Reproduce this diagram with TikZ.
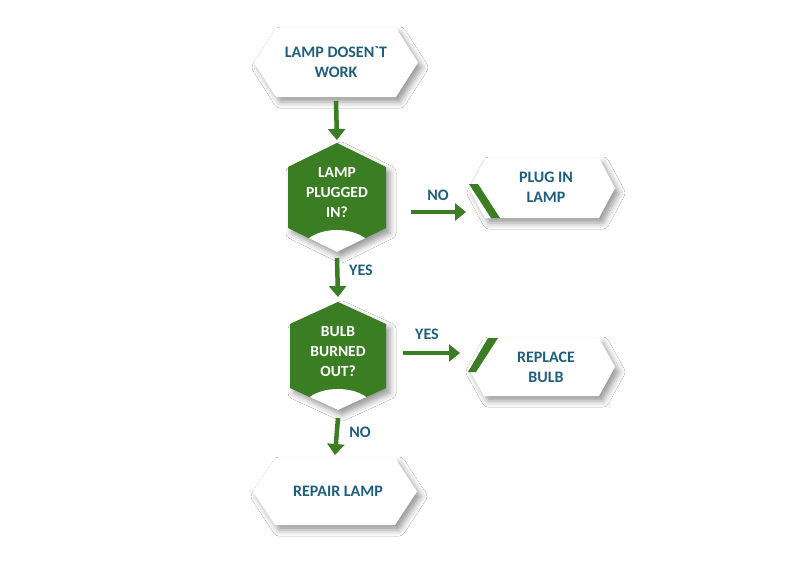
\documentclass[tikz,border=0pt]{standalone}
\usepackage{fontspec}
\setmainfont{Carlito}[Ligatures=TeXOff]
\usetikzlibrary{arrows.meta,shadows.blur}
\definecolor{lgreen}{HTML}{3A7D22}
\definecolor{ltext}{HTML}{1F5F7E}
\begin{document}
\begin{tikzpicture}[x=1pt,y=-1pt,
  holder/.style={inner sep=0pt, outer sep=0pt},
  btxt/.style={text=ltext, font=\fontsize{16}{20}\selectfont\bfseries, align=center, inner sep=0pt},
  wtxt/.style={text=white, font=\fontsize{15.5}{20}\selectfont\bfseries, align=center, inner sep=0pt},
  lbl/.style={text=ltext, font=\fontsize{16}{18}\selectfont\bfseries, inner sep=0pt},
  shd/.style={blur shadow={shadow xshift=4pt, shadow yshift=-5pt, shadow blur radius=6pt, shadow opacity=40}},
  arr/.style={draw=lgreen, line width=4.5pt, -{Triangle[width=17pt,length=11pt]}}
]
\useasboundingbox[fill=white] (0,0) rectangle (800,565);

% placeholders
\node[holder, minimum width=164pt, minimum height=69pt] (n1) at (336,62.5) {};
\node[holder, minimum width=98pt, minimum height=109pt] (d1) at (337,197.5) {};
\node[holder, minimum width=146pt, minimum height=60pt] (p1) at (542,188) {};
\node[holder, minimum width=96pt, minimum height=108pt] (d2) at (338,356) {};
\node[holder, minimum width=147pt, minimum height=58pt] (r1) at (541.5,367) {};
\node[holder, minimum width=164pt, minimum height=67pt] (rp) at (335,491.5) {};

% white hexagons
\fill[white, shd] (n1.west) -- ([xshift=22pt]n1.north west) -- ([xshift=-22pt]n1.north east) -- (n1.east) -- ([xshift=-22pt]n1.south east) -- ([xshift=22pt]n1.south west) -- cycle;
\fill[white, shd] (p1.west) -- ([xshift=16pt]p1.north west) -- ([xshift=-16pt]p1.north east) -- (p1.east) -- ([xshift=-16pt]p1.south east) -- ([xshift=16pt]p1.south west) -- cycle;
\fill[white, shd] (r1.west) -- ([xshift=16pt]r1.north west) -- ([xshift=-16pt]r1.north east) -- (r1.east) -- ([xshift=-16pt]r1.south east) -- ([xshift=16pt]r1.south west) -- cycle;
\fill[white, shd] (rp.west) -- ([xshift=22pt]rp.north west) -- ([xshift=-22pt]rp.north east) -- (rp.east) -- ([xshift=-22pt]rp.south east) -- ([xshift=22pt]rp.south west) -- cycle;

% green bands
\fill[lgreen] (469,184) -- (478,184) -- (500,218) -- (491,218) -- cycle;
\fill[lgreen] (468,372) -- (476,372) -- (498,338) -- (488,338) -- cycle;

% decisions
\fill[lgreen, shd] (d1.north) -- ([yshift=-24pt]d1.north east) -- ([yshift=24pt]d1.south east) -- (d1.south) -- ([yshift=24pt]d1.south west) -- ([yshift=-24pt]d1.north west) -- cycle;
\begin{scope}
\clip (d1.north) -- ([yshift=-24pt]d1.north east) -- ([yshift=24pt]d1.south east) -- (d1.south) -- ([yshift=24pt]d1.south west) -- ([yshift=-24pt]d1.north west) -- cycle;
\fill[white] (d1.south) ellipse [x radius=36, y radius=22];
\end{scope}
\fill[lgreen, shd] (d2.north) -- ([yshift=-22pt]d2.north east) -- ([yshift=22pt]d2.south east) -- (d2.south) -- ([yshift=22pt]d2.south west) -- ([yshift=-22pt]d2.north west) -- cycle;
\begin{scope}
\clip (d2.north) -- ([yshift=-22pt]d2.north east) -- ([yshift=22pt]d2.south east) -- (d2.south) -- ([yshift=22pt]d2.south west) -- ([yshift=-22pt]d2.north west) -- cycle;
\fill[white] (d2.south) ellipse [x radius=36, y radius=21];
\end{scope}

% texts
\node[btxt] (t1) at (336,62.5) {LAMP DOSEN`T\\WORK};
\node[wtxt] (t2) at (337,193) {LAMP\\PLUGGED\\IN?};
\node[btxt] (t3) at (546,187) {PLUG IN\\LAMP};
\node[wtxt] (t4) at (338,352) {BULB\\BURNED\\OUT?};
\node[btxt] (t5) at (546,367) {REPLACE\\BULB};
\node[btxt] (t6) at (338,491) {REPAIR LAMP};

% connectors
\draw[arr] ([yshift=-4pt]n1.south) -- ([yshift=3pt]d1.north);
\draw[arr] ([xshift=25pt,yshift=-14.5pt]d1.east) -- ([xshift=-3pt,yshift=-24pt]p1.west);
\draw[arr] ([yshift=-6pt]d1.south) -- ([yshift=5pt]d2.north);
\draw[arr] ([xshift=17pt,yshift=3pt]d2.east) -- ([xshift=-8pt,yshift=14pt]r1.west);
\draw[arr] ([yshift=-8pt]d2.south) -- ([yshift=3pt]rp.north);

% labels
\node[lbl] (l1) at (438,195) {NO};
\node[lbl] (l2) at (361,270) {YES};
\node[lbl] (l3) at (427,334) {YES};
\node[lbl] (l4) at (360,432) {NO};
\end{tikzpicture}
\end{document}
